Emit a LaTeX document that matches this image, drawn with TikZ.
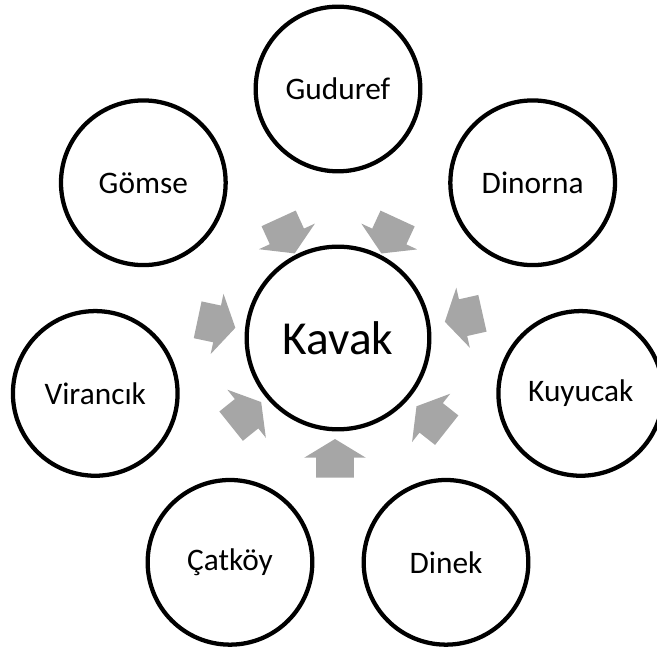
\documentclass[tikz,border=0pt]{standalone}
\usepackage{fontspec}
\setmainfont{Carlito}
\usepackage{tikz}
\usetikzlibrary{shapes.arrows}
\definecolor{ink}{HTML}{000000}
\definecolor{fade}{HTML}{A6A6A6}
\tikzset{
  ring/.style={circle,draw=ink,fill=white,line width=3.2pt,inner sep=0pt,minimum size=#1},
  village/.style={ring=123.5pt,font=\fontsize{23.5pt}{28pt}\selectfont},
  hub/.style={ring=137pt,font=\fontsize{35.5pt}{42pt}\selectfont},
  inflow/.style={single arrow,fill=fade,draw=none,inner xsep=0pt,inner ysep=13.9pt,
    single arrow head extend=9pt,single arrow tip angle=117.5,minimum height=28.9pt},
}

\begin{document}
\begin{tikzpicture}
\useasboundingbox (-253.5pt,-232.5pt) rectangle (239.25pt,253.5pt);
% centre and the seven villages round it
\node[hub] (kavak) at (0,0) {Kavak};
\node[village] (guduref)  at (90:186.75pt)     {Guduref};
\node[village] (dinorna)  at (38.57:186.75pt)  {Dinorna};
\node[village] (kuyucak)  at (347.14:186.75pt) {Kuyucak};
\node[village] (dinek)    at (295.71:186.75pt) {Dinek};
\node[village] (catkoy)   at (244.29:186.75pt) {Çatköy};
\node[village] (virancik) at (192.86:186.75pt) {Virancık};
\node[village] (gomse)    at (141.43:186.75pt) {Gömse};
% grey arrows pointing in
\node[inflow,rotate=294.6] (in1) at (116.6:90pt)    {};
\node[inflow,rotate=245.2] (in2) at (63.3:90pt)     {};
\node[inflow,rotate=192.7] (in3) at (9.4:99.75pt)   {};
\node[inflow,rotate=141.7] (in4) at (319.5:96.75pt) {};
\node[inflow,rotate=90]    (in5) at (-2.25pt,-94.5pt) {};
\node[inflow,rotate=38.7]  (in6) at (219.6:93.75pt) {};
\node[inflow,rotate=348]   (in7) at (173.1:96pt)    {};
\end{tikzpicture}
\end{document}
